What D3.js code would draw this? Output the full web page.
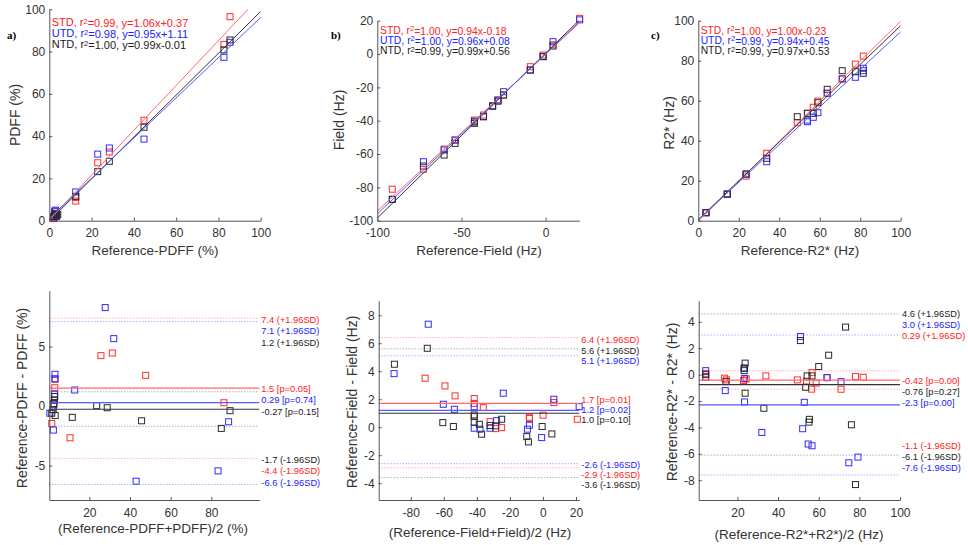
<!DOCTYPE html>
<html><head><meta charset="utf-8">
<script src="https://cdn.jsdelivr.net/npm/d3@7"></script>
<style>body{margin:0;background:#fff} svg{display:block} text{font-family:"Liberation Sans",Arial,sans-serif}</style>
</head><body><svg id="chart" width="968" height="545"></svg>
<script>
const seriesNames = ["STD", "UTD", "NTD"];

// ---- a) PDFF correlation ----
const pdffRef_STD = [2.0, 2.5, 3.0, 3.5, 3.0, 12.5, 12.5, 22.9, 28.4, 44.8, 82.6, 85.5];
const pdff_STD    = [2.0, 1.5, 4.5, 3.0, 2.5, 9.3, 11.0, 27.4, 32.5, 47.5, 83.4, 96.5];
const pdffRef_UTD = [2.0, 2.5, 3.0, 3.5, 12.5, 22.9, 28.4, 44.8, 82.6, 85.5];
const pdff_UTD    = [1.0, 4.5, 5.0, 2.0, 13.6, 31.5, 34.4, 38.6, 77.3, 84.4];
const pdffRef_NTD = [2.0, 2.5, 3.0, 3.5, 4.0, 12.5, 22.9, 28.4, 44.8, 82.6, 85.5];
const pdff_NTD    = [2.0, 3.0, 3.5, 2.5, 3.0, 11.5, 23.2, 28.1, 44.2, 80.8, 85.5];
const pdffR2 = [0.99, 0.98, 1.00];
const pdffSlope = [1.06, 0.95, 0.99];
const pdffIntercept = [0.37, 1.11, -0.01];

// ---- b) Field correlation ----
const fieldRef_STD = [-91.1, -72.6, -60.3, -53.8, -42.3, -36.9, -31.5, -28.3, -25.0, -9.1, -1.5, 4.4, 20.2];
const field_STD    = [-81.1, -69.2, -57.0, -51.6, -39.6, -36.6, -31.2, -27.6, -24.6, -7.6, -0.6, 5.5, 21.4];
const fieldRef_UTD = [-91.1, -72.6, -60.3, -53.8, -42.3, -36.9, -31.5, -28.3, -25.0, -9.1, -1.5, 4.4, 20.2];
const field_UTD    = [-87.2, -64.6, -57.6, -51.6, -40.3, -37.6, -31.2, -27.6, -22.6, -9.6, -1.6, 7.4, 20.5];
const fieldRef_NTD = [-91.1, -72.6, -60.3, -53.8, -42.3, -42.3, -36.9, -31.5, -28.3, -25.0, -9.1, -1.5, 4.4];
const field_NTD    = [-87.2, -67.2, -60.6, -53.6, -41.6, -40.8, -37.6, -31.2, -28.3, -24.6, -9.6, -1.5, 4.8];
const fieldR2 = [1.00, 1.00, 0.99];
const fieldSlope = [0.94, 0.96, 0.99];
const fieldIntercept = [-0.18, 0.08, 0.56];

// ---- c) R2* correlation ----
const r2Ref_STD = [3.8, 14.3, 23.6, 33.8, 48.9, 53.9, 56.8, 59.1, 63.7, 71.1, 77.6, 81.5];
const r2_STD    = [4.0, 13.3, 22.3, 33.7, 49.0, 53.7, 56.7, 59.8, 63.7, 70.9, 78.3, 82.3];
const r2Ref_UTD = [3.8, 14.3, 23.6, 33.8, 53.9, 53.9, 56.8, 59.1, 63.7, 71.1, 77.6, 81.5, 81.5];
const r2_UTD    = [4.0, 13.3, 23.3, 29.5, 50.3, 49.5, 51.7, 54.0, 63.7, 70.9, 71.7, 76.2, 75.0];
const r2Ref_NTD = [3.8, 14.3, 23.6, 33.8, 48.9, 53.9, 56.8, 59.1, 63.7, 71.1, 77.6, 81.5];
const r2_NTD    = [4.0, 13.3, 23.3, 31.2, 52.0, 53.7, 53.7, 59.0, 65.7, 75.0, 74.5, 73.7];
const r2R2 = [1.00, 0.99, 0.99];
const r2Slope = [1.00, 0.94, 0.97];
const r2Intercept = [-0.23, 0.45, 0.53];

// ---- Bland-Altman PDFF ----
const baPdffMean_STD = [25.7, 31.3, 47.7, 10.5, 86.2, 3.2, 3.0, 2.8, 1.5, 2.5, 2.0];
const baPdffDiff_STD = [4.24, 4.46, 2.58, -2.67, 0.28, 2.25, 1.54, 0.5, -1.46, 0.2, -0.3];
const baPdffMean_UTD = [27.8, 32.0, 12.8, 43.0, 83.3, 88.5, 3.1, 3.0, 2.8, 2.3, 0.6, 2.5];
const baPdffDiff_UTD = [8.28, 5.67, 1.35, -6.32, -5.45, -1.32, 2.67, 2.3, 1.0, -2.02, -0.6, 0.1];
const baPdffMean_NTD = [23.6, 28.8, 11.6, 45.7, 84.9, 89.2, 3.0, 2.8, 2.5, 2.2, 3.2, 1.5];
const baPdffDiff_NTD = [0.03, -0.14, -0.95, -1.24, -1.88, -0.39, 0.8, 0.5, 0.2, -0.3, -0.8, -0.6];
const baPdffBias = [1.5, 0.29, -0.27];
const baPdffUpper = [7.4, 7.1, 1.2];
const baPdffLower = [-4.4, -6.6, -1.7];
const baPdffP = [0.05, 0.74, 0.15];

// ---- Bland-Altman Field ----
const baFieldMean_STD = [-71.3, -59.3, -53.2, -41.6, -41.6, -36.1, -32.0, -28.6, -25.0, -8.2, -8.2, 0.1, 6.6, 20.8];
const baFieldDiff_STD = [3.5, 2.95, 2.24, 2.05, 1.7, 1.4, 0.4, -0.1, -0.03, 0.71, 0.62, 0.86, 1.76, 0.57];
const baFieldMean_UTD = [-69.4, -90.1, -60.3, -53.6, -41.6, -41.6, -38.1, -32.0, -28.0, -24.0, -8.2, -9.4, -0.8, 6.6, 21.9];
const baFieldDiff_UTD = [7.36, 3.83, 1.64, 1.28, 1.47, -0.07, -0.14, -0.07, 0.47, 2.43, 0.14, -0.14, -0.74, 2.0, 1.47];
const baFieldMean_NTD = [-70.0, -89.9, -60.6, -54.2, -41.6, -41.6, -41.6, -38.5, -37.1, -32.0, -28.6, -25.0, -9.8, -8.8, -0.5, 5.4];
const baFieldDiff_NTD = [5.64, 4.5, 0.33, 0.05, 0.88, 0.76, 0.36, 0.21, -0.5, 0.12, 0.1, 0.57, -0.67, -1.05, 0.05, -0.48];
const baFieldBias = [1.7, 1.2, 1.0];
const baFieldUpper = [6.4, 5.1, 5.6];
const baFieldLower = [-2.9, -2.6, -3.6];
const baFieldP = [0.01, 0.02, 0.10];

// ---- Bland-Altman R2* ----
const baR2Mean_STD = [4.4, 13.6, 14.6, 24.3, 23.0, 34.0, 49.5, 54.0, 56.7, 56.5, 58.7, 64.1, 71.0, 78.1, 81.9];
const baR2Diff_STD = [0.1, -0.27, -0.4, -0.33, -0.45, -0.1, -0.4, -0.5, 0.15, -1.1, -0.64, -0.23, -1.11, -0.15, -0.2];
const baR2Mean_UTD = [4.4, 14.0, 23.2, 23.5, 23.5, 32.0, 51.0, 52.9, 52.1, 54.8, 56.7, 64.1, 71.0, 74.8, 79.3];
const baR2Diff_UTD = [0.3, -1.21, 0.48, -0.3, -2.07, -4.38, 2.89, -2.1, -4.1, -5.26, -5.39, -0.23, -0.53, -6.68, -6.25];
const baR2Mean_NTD = [4.4, 4.4, 14.3, 23.8, 23.5, 23.3, 23.8, 33.0, 51.0, 54.3, 53.6, 55.4, 55.2, 56.7, 60.0, 64.9, 73.2, 76.1, 78.1];
const baR2Diff_NTD = [-0.2, 0.0, -0.53, 0.87, 0.5, 0.3, -1.41, -2.55, 2.58, -0.1, -0.96, -3.39, -3.6, -0.1, 0.61, 1.47, 3.6, -3.8, -8.33];
const baR2Bias = [-0.42, -2.3, -0.76];
const baR2Upper = [0.29, 3.0, 4.6];
const baR2Lower = [-1.1, -7.6, -6.1];
const baR2P = [0.00, 0.00, 0.27];

// ---------------- styling ----------------
const markerColor = ["#ff2d2d", "#2d2dff", "#2a2a2a"];
const lineColor = ["#ff6a6a", "#5a5aff", "#333333"];
const textColor = ["#ff2020", "#2020ff", "#1a1a1a"];
const dotColor = ["#ff8a8a", "#8a8aff", "#8a8a8a"];

const svg = d3.select("#chart");
const minus = s => String(s).replace(/\u2212/g, "-");
const fmt2r = v => minus(d3.format(".2r")(v));
let clipId = 0;

function makeAxes(g, x, y, xt, yt, box, padX) {
  const ax = g.append("g").attr("transform", `translate(0,${box.b})`)
    .call(d3.axisBottom(x).tickValues(xt).tickSizeInner(-3).tickSizeOuter(0).tickPadding(padX).tickFormat(d => minus(d)));
  const ay = g.append("g").attr("transform", `translate(${box.l},0)`)
    .call(d3.axisLeft(y).tickValues(yt).tickSizeInner(-3).tickSizeOuter(0).tickPadding(4).tickFormat(d => minus(d)));
  [ax, ay].forEach(a => {
    a.select(".domain").attr("stroke", "#555");
    a.selectAll(".tick line").attr("stroke", "#555");
    a.selectAll(".tick text").attr("fill", "#333").style("font-size", "12px");
  });
}

function axisLabels(g, cfg) {
  g.append("text").attr("x", cfg.xlab[0]).attr("y", cfg.xlab[1]).attr("dy", "0.35em")
    .attr("text-anchor", "middle").attr("fill", "#333").style("font-size", "13.5px").text(cfg.xlabel);
  g.append("text").attr("transform", `translate(${cfg.ylab[0]},${cfg.ylab[1]}) rotate(-90)`).attr("dy", "0.35em")
    .attr("text-anchor", "middle").attr("fill", "#333").style("font-size", "14px").text(cfg.ylabel);
}

function drawMarkers(g, x, y, xs, ys, i) {
  g.append("g").selectAll("rect").data(xs.map((d, k) => [d, ys[k]])).join("rect")
    .attr("x", d => x(d[0]) - 3).attr("y", d => y(d[1]) - 3)
    .attr("width", 6).attr("height", 6)
    .attr("fill", "none").attr("stroke", markerColor[i]).attr("stroke-width", 1);
}

function corrPanel(cfg) {
  const g = svg.append("g");
  const box = cfg.box;
  const x = d3.scaleLinear().domain(cfg.xd).range([box.l, box.r]);
  const y = d3.scaleLinear().domain(cfg.yd).range([box.b, box.t]);
  const id = "clip" + (clipId++);
  g.append("clipPath").attr("id", id).append("rect")
    .attr("x", box.l).attr("y", box.t).attr("width", box.r - box.l).attr("height", box.b - box.t);
  cfg.series.forEach((s, i) => drawMarkers(g, x, y, s[0], s[1], i));
  const line = d3.line().x(d => x(d[0])).y(d => y(d[1]));
  const lg = g.append("g").attr("clip-path", `url(#${id})`);
  [0, 2, 1].forEach(i => {
    lg.append("path").datum(cfg.xd.map(v => [v, cfg.slope[i] * v + cfg.intercept[i]]))
      .attr("d", line).attr("fill", "none").attr("stroke", lineColor[i]).attr("stroke-width", 1);
  });
  makeAxes(g, x, y, cfg.xt, cfg.yt, box, 8);
  axisLabels(g, cfg);
  seriesNames.forEach((n, i) => {
    const t = g.append("text").attr("x", cfg.annot[0]).attr("y", cfg.annot[1] + i * cfg.annot[2]).attr("dy", "0.35em")
      .attr("fill", textColor[i]).style("font-size", cfg.annot[3] + "px");
    t.append("tspan").text(`${n}, r`);
    t.append("tspan").attr("dy", "-0.35em").style("font-size", "7.5px").text("2");
    const ic = cfg.intercept[i];
    t.append("tspan").attr("dy", "0.35em")
      .text(`=${cfg.r2[i].toFixed(2)}, y=${cfg.slope[i].toFixed(2)}x${ic < 0 ? "-" : "+"}${Math.abs(ic).toFixed(2)}`);
  });
  g.append("text").attr("x", cfg.tag[0]).attr("y", cfg.tag[1]).attr("fill", "#000")
    .style("font-family", "'Liberation Serif','Times New Roman',serif").style("font-weight", "bold").style("font-size", "11px")
    .text(cfg.tagText);
}

function baPanel(cfg) {
  const g = svg.append("g");
  const box = cfg.box;
  const x = d3.scaleLinear().domain(cfg.xd).range([box.l, box.r]);
  const y = d3.scaleLinear().domain(cfg.yd).range([box.b, box.t]);
  [0, 1, 2].forEach(i => {
    [cfg.upper[i], cfg.lower[i]].forEach(v => {
      g.append("line").attr("x1", box.l).attr("x2", box.r).attr("y1", y(v)).attr("y2", y(v))
        .attr("stroke", dotColor[i]).attr("stroke-width", 1).attr("stroke-dasharray", "1,2");
    });
  });
  cfg.series.forEach((s, i) => drawMarkers(g, x, y, s[0], s[1], i));
  [0, 1, 2].forEach(i => {
    g.append("line").attr("x1", box.l).attr("x2", box.r).attr("y1", y(cfg.bias[i])).attr("y2", y(cfg.bias[i]))
      .attr("stroke", lineColor[i]).attr("stroke-width", 1.2);
  });
  makeAxes(g, x, y, cfg.xt, cfg.yt, box, 8);
  axisLabels(g, cfg);
  const groups = [
    cfg.upper.map((v, i) => ({v, i, t: `${fmt2r(v)} (+1.96SD)`})),
    cfg.bias.map((v, i) => ({v, i, t: `${fmt2r(v)} [p=${cfg.p[i].toFixed(2)}]`})),
    cfg.lower.map((v, i) => ({v, i, t: `${fmt2r(v)} (-1.96SD)`}))
  ];
  groups.forEach((grp, gi) => {
    grp.sort((a, b) => b.v - a.v);
    grp.forEach((d, k) => {
      g.append("text").attr("x", box.r + 2).attr("y", cfg.labTop[gi] + k * cfg.labStep).attr("dy", "0.35em")
        .attr("fill", textColor[d.i]).style("font-size", "9.3px").text(d.t);
    });
  });
}

corrPanel({
  box: {l: 49.3, r: 260.7, t: 9.3, b: 220.7}, xd: [0, 100], yd: [0, 100],
  xt: d3.range(0, 101, 20), yt: d3.range(0, 101, 20),
  series: [[pdffRef_STD, pdff_STD], [pdffRef_UTD, pdff_UTD], [pdffRef_NTD, pdff_NTD]],
  r2: pdffR2, slope: pdffSlope, intercept: pdffIntercept,
  xlabel: "Reference-PDFF (%)", ylabel: "PDFF (%)", xlab: [155, 250], ylab: [15, 115],
  annot: [51.7, 22.3, 11, 11], tag: [7, 38.5], tagText: "a)"
});
corrPanel({
  box: {l: 377.3, r: 579.3, t: 20.7, b: 220.7}, xd: [-100, 20], yd: [-100, 20],
  xt: [-100, -50, 0], yt: d3.range(-100, 21, 20),
  series: [[fieldRef_STD, field_STD], [fieldRef_UTD, field_UTD], [fieldRef_NTD, field_NTD]],
  r2: fieldR2, slope: fieldSlope, intercept: fieldIntercept,
  xlabel: "Reference-Field (Hz)", ylabel: "Field (Hz)", xlab: [479, 250], ylab: [339, 120],
  annot: [380, 30, 10.4, 10.4], tag: [331, 38.5], tagText: "b)"
});
corrPanel({
  box: {l: 698.3, r: 900.7, t: 20.7, b: 220.7}, xd: [0, 100], yd: [0, 100],
  xt: d3.range(0, 101, 20), yt: d3.range(0, 101, 20),
  series: [[r2Ref_STD, r2_STD], [r2Ref_UTD, r2_UTD], [r2Ref_NTD, r2_NTD]],
  r2: r2R2, slope: r2Slope, intercept: r2Intercept,
  xlabel: "Reference-R2* (Hz)", ylabel: "R2* (Hz)", xlab: [800, 250], ylab: [669, 123],
  annot: [700.7, 30, 10.3, 10.3], tag: [651, 38.5], tagText: "c)"
});

baPanel({
  box: {l: 49.3, r: 259.3, t: 290.7, b: 500}, xd: [0.3, 103.6], yd: [-7.9, 9.7],
  xt: [20, 40, 60, 80], yt: [-5, 0, 5],
  series: [[baPdffMean_STD, baPdffDiff_STD], [baPdffMean_UTD, baPdffDiff_UTD], [baPdffMean_NTD, baPdffDiff_NTD]],
  bias: baPdffBias, upper: baPdffUpper, lower: baPdffLower, p: baPdffP,
  xlabel: "(Reference-PDFF+PDFF)/2 (%)", ylabel: "Reference-PDFF - PDFF (%)", xlab: [153, 528], ylab: [22, 398],
  labTop: [319.3, 388.3, 459.3], labStep: 11.8
});
baPanel({
  box: {l: 378.7, r: 579.3, t: 300.7, b: 500}, xd: [-99.4, 22], yd: [-5.2, 9.04],
  xt: [-80, -60, -40, -20, 0, 20], yt: [-4, -2, 0, 2, 4, 6, 8],
  series: [[baFieldMean_STD, baFieldDiff_STD], [baFieldMean_UTD, baFieldDiff_UTD], [baFieldMean_NTD, baFieldDiff_NTD]],
  bias: baFieldBias, upper: baFieldUpper, lower: baFieldLower, p: baFieldP,
  xlabel: "(Reference-Field+Field)/2 (Hz)", ylabel: "Reference-Field - Field (Hz)", xlab: [480, 532], ylab: [352, 402],
  labTop: [340, 399.3, 464.3], labStep: 10.3
});
baPanel({
  box: {l: 698.7, r: 900, t: 300.7, b: 500}, xd: [0.94, 100], yd: [-9.5, 5.6],
  xt: [20, 40, 60, 80, 100], yt: [-8, -6, -4, -2, 0, 2, 4],
  series: [[baR2Mean_STD, baR2Diff_STD], [baR2Mean_UTD, baR2Diff_UTD], [baR2Mean_NTD, baR2Diff_NTD]],
  bias: baR2Bias, upper: baR2Upper, lower: baR2Lower, p: baR2P,
  xlabel: "(Reference-R2*+R2*)/2 (Hz)", ylabel: "Reference-R2* - R2* (Hz)", xlab: [799, 534], ylab: [672, 402],
  labTop: [314, 381, 445.7], labStep: 10.9
});
</script></body></html>
